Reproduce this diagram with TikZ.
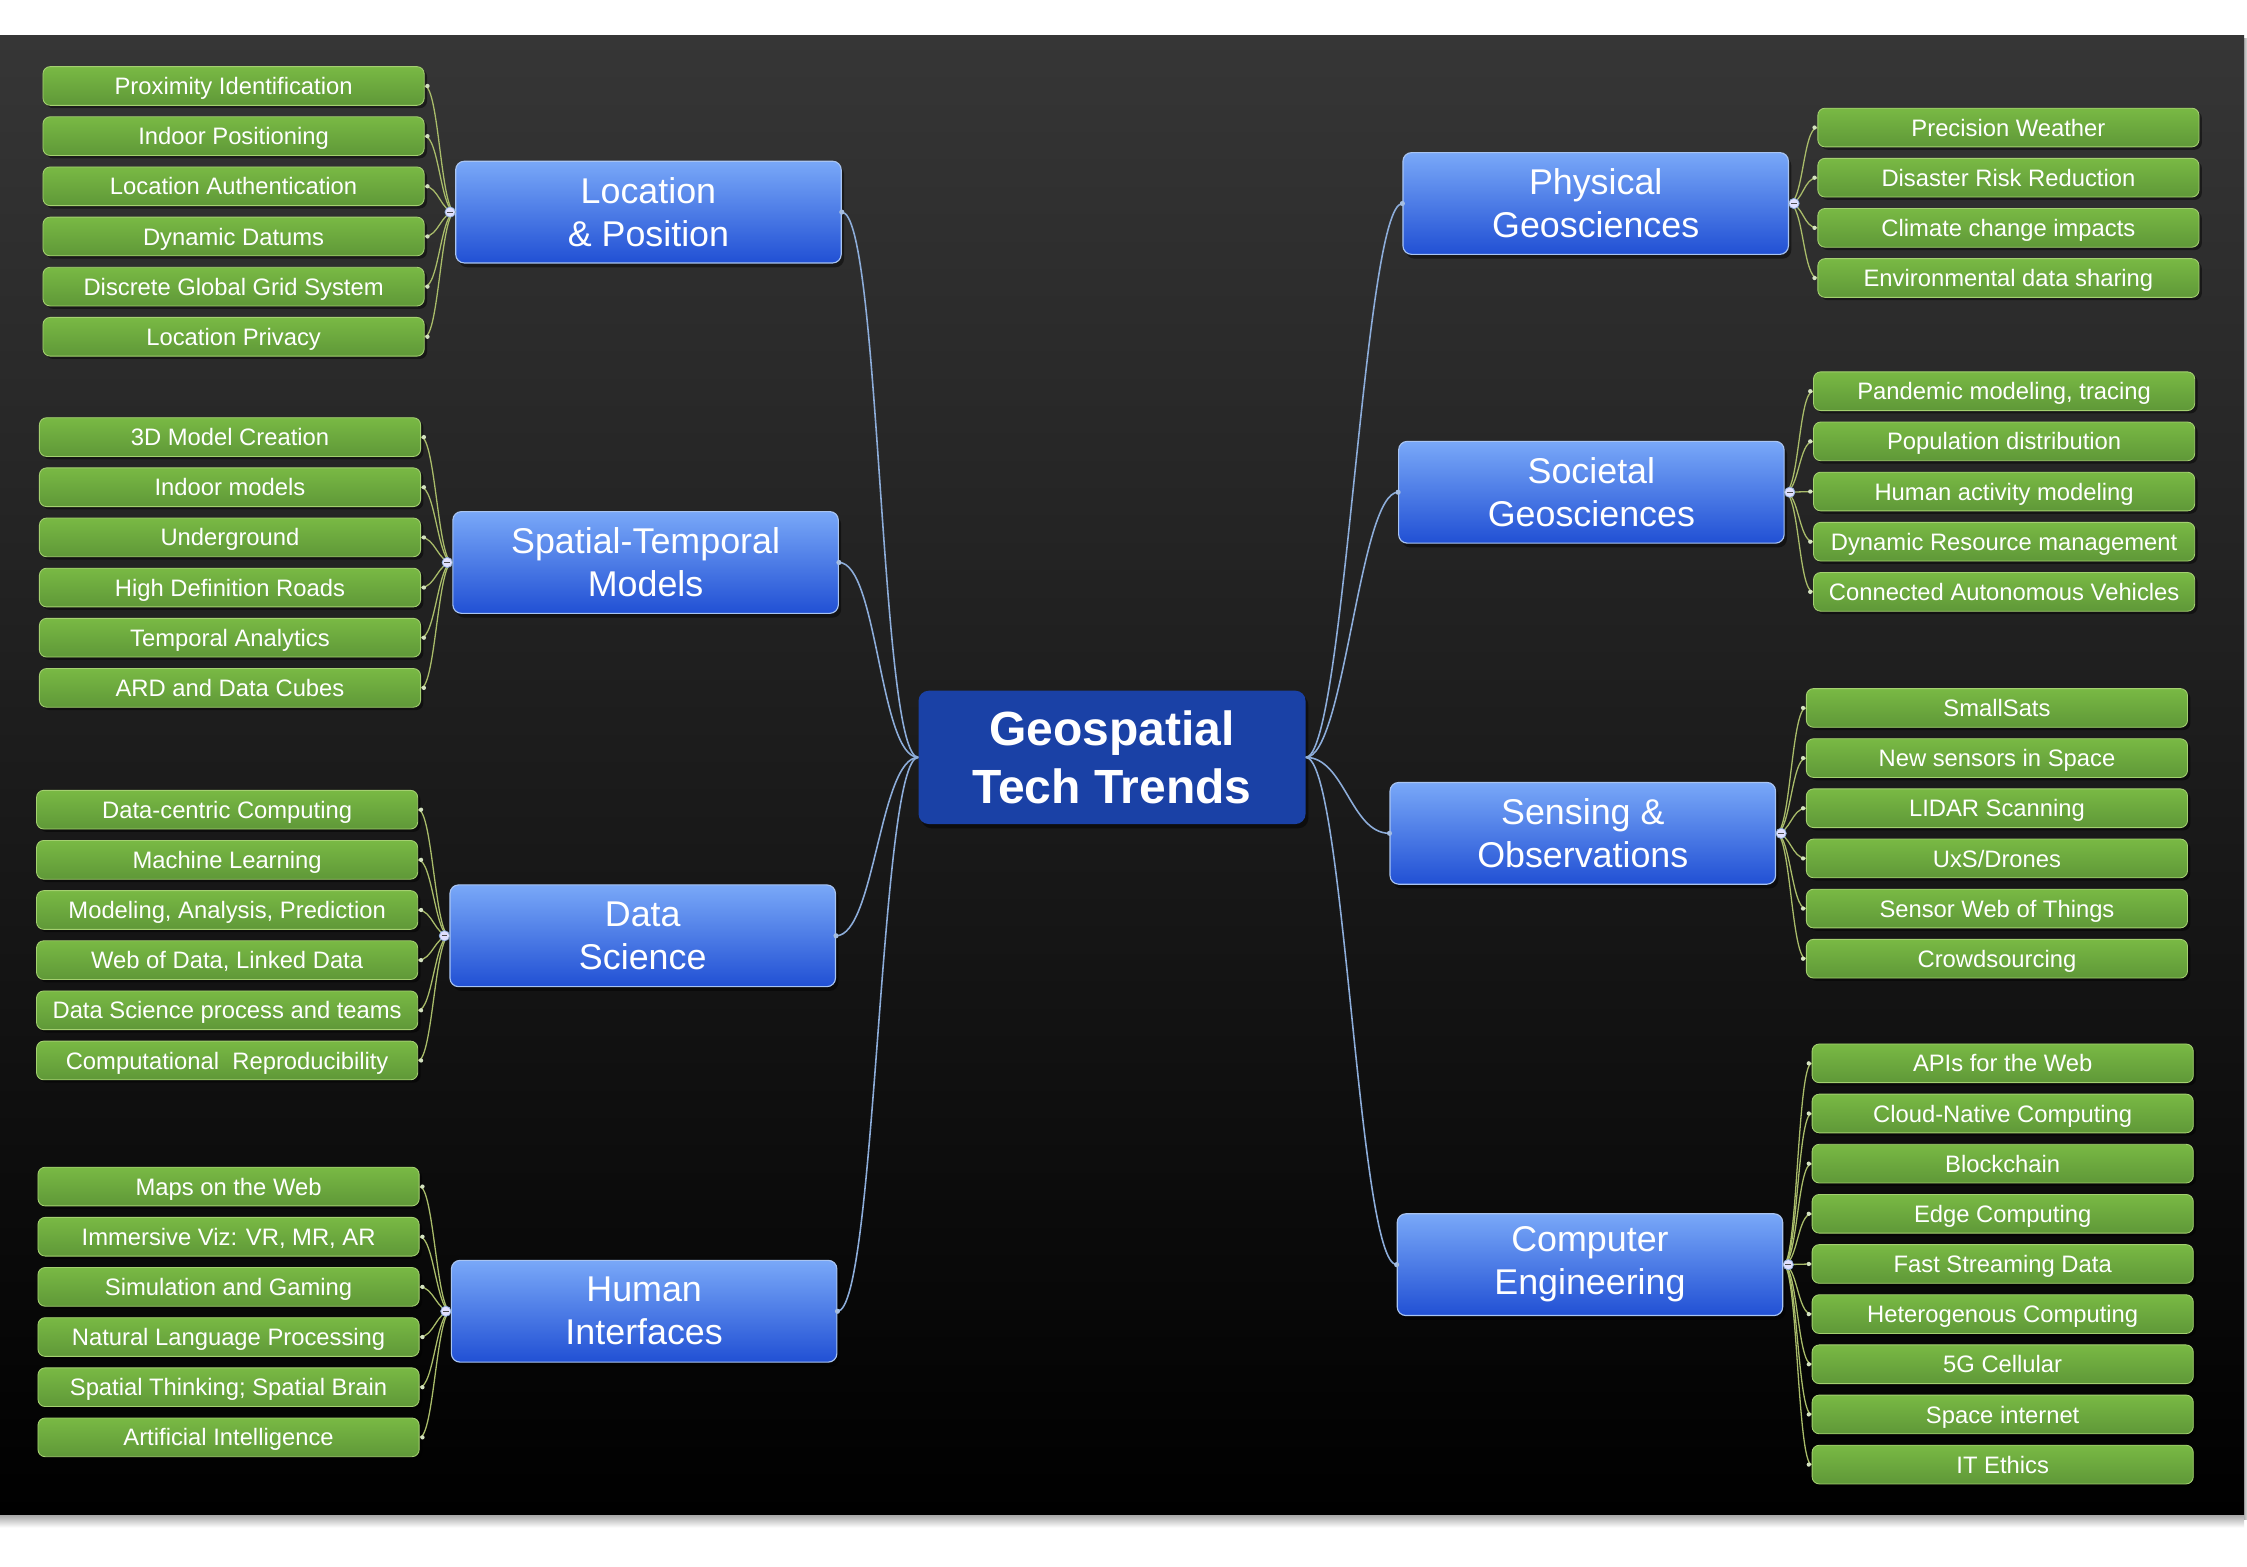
\documentclass[tikz,border=0pt]{standalone}
\usepackage{fontspec}
\setmainfont{Liberation Sans}
\usetikzlibrary{shadows}
\definecolor{bgtop}{HTML}{363636}
\definecolor{bgbot}{HTML}{000000}
\definecolor{gtop}{HTML}{79B944}
\definecolor{gbot}{HTML}{5F9838}
\definecolor{gborder}{HTML}{A4D070}
\definecolor{btop}{HTML}{79A8F8}
\definecolor{bbot}{HTML}{2150D4}
\definecolor{bborder}{HTML}{A8C4F2}
\definecolor{cblue}{HTML}{1A41A6}
\definecolor{bline}{HTML}{8DADDA}
\definecolor{gline}{HTML}{A9BC6A}
\definecolor{gdot}{HTML}{D4E2C0}
\begin{document}
\begin{tikzpicture}[x=1pt,y=-1pt,
  greenbox/.style={draw=gborder, line width=0.6pt, rounded corners=5pt,
    top color=gtop, bottom color=gbot, minimum width=266pt, minimum height=27pt,
    inner sep=0pt, text=white, font=\fontsize{16.6}{19}\selectfont,
    text height=12pt, text depth=0pt,
    drop shadow={shadow xshift=2pt, shadow yshift=-2pt, opacity=0.45, fill=black}},
  bluebox/.style={draw=bborder, line width=0.8pt, rounded corners=6pt,
    top color=btop, bottom color=bbot, minimum width=269pt, minimum height=71pt,
    inner sep=0pt, text=white, align=center, font=\fontsize{25}{30}\selectfont,
    drop shadow={shadow xshift=2pt, shadow yshift=-3pt, opacity=0.45, fill=black}},
  centerbox/.style={fill=cblue, rounded corners=7pt, minimum width=270pt,
    minimum height=93pt, inner sep=0pt, text=white, align=center,
    font=\bfseries\fontsize{33.5}{40}\selectfont,
    drop shadow={shadow xshift=2pt, shadow yshift=-3pt, opacity=0.45, fill=black}},
  mainline/.style={draw=bline, line width=1.1pt},
  subline/.style={draw=gline, line width=0.9pt},
  enddot/.style={fill=gdot, draw=none},
  bdot/.style={fill=bline!80!white, draw=none},
  collapse/.style={fill=white!88!blue, draw=bline, line width=0.5pt}
]
\useasboundingbox (0,0) rectangle (1568,1093);
\fill[white] (0,0) rectangle (1568,1093);
% page shadow
\shade[top color=black!35, bottom color=white] (0,1057) rectangle (1566,1066);
\shade[left color=black!30, right color=white] (1566,27) rectangle (1570,1060);
% dark background
\shade[top color=bgtop, bottom color=bgbot] (0,25) rectangle (1566,1057);

% ---------- centre ----------
\node[centerbox] (ctr) at (776,528.5) {Geospatial\\Tech Trends};

% ---------- left blue nodes ----------
\node[bluebox] (loc) at (452.5,148) {Location\\\& Position};
\node[bluebox] (stm) at (450.5,392.5) {Spatial-Temporal\\Models};
\node[bluebox] (dsc) at (448.5,653) {Data\\Science};
\node[bluebox] (hmi) at (449.5,915) {Human\\Interfaces};

% ---------- right blue nodes ----------
\node[bluebox] (phy) at (1113.5,142) {Physical\\Geosciences};
\node[bluebox] (soc) at (1110.5,343.5) {Societal\\Geosciences};
\node[bluebox] (sen) at (1104.5,581.5) {Sensing \&\\Observations};
\node[bluebox] (cmp) at (1109.5,882.5) {Computer\\Engineering};

% ---------- main connectors ----------
\foreach \b in {loc,stm,dsc,hmi}{
  \draw[mainline] (ctr.west) .. controls +(-27,0) and +(27,0) .. (\b.east);
  \fill[bdot] (\b.east) circle (1.8pt);
}
\foreach \b in {phy,soc,sen,cmp}{
  \draw[mainline] (ctr.east) .. controls +(27,0) and +(-27,0) .. (\b.west);
  \fill[bdot] (\b.west) circle (1.8pt);
}

% ---------- left green groups ----------
\foreach \t [count=\i] in {Proximity Identification, Indoor Positioning, Location Authentication, Dynamic Datums, Discrete Global Grid System, Location Privacy}{
  \node[greenbox] (loc\i) at (163,{25+35*\i}) {\t};
  \draw[subline] (loc.west) .. controls +(-10,0) and +(10,0) .. (loc\i.east);
  \fill[enddot] (loc\i.east) ++(2,0) circle (1.5pt);
}
\foreach \t [count=\i] in {3D Model Creation, Indoor models, Underground, High Definition Roads, Temporal Analytics, ARD and Data Cubes}{
  \node[greenbox] (stm\i) at (160.5,{270+35*\i}) {\t};
  \draw[subline] (stm.west) .. controls +(-10,0) and +(10,0) .. (stm\i.east);
  \fill[enddot] (stm\i.east) ++(2,0) circle (1.5pt);
}
\foreach \t [count=\i] in {Data-centric Computing, Machine Learning, {Modeling, Analysis, Prediction}, {Web of Data, Linked Data}, Data Science process and teams, Computational\ \ Reproducibility}{
  \node[greenbox] (dsc\i) at (158.5,{530+35*\i}) {\t};
  \draw[subline] (dsc.west) .. controls +(-10,0) and +(10,0) .. (dsc\i.east);
  \fill[enddot] (dsc\i.east) ++(2,0) circle (1.5pt);
}
\foreach \t [count=\i] in {Maps on the Web, {Immersive Viz: VR, MR, AR}, Simulation and Gaming, Natural Language Processing, {Spatial Thinking; Spatial Brain}, Artificial Intelligence}{
  \node[greenbox] (hmi\i) at (159.5,{793+35*\i}) {\t};
  \draw[subline] (hmi.west) .. controls +(-10,0) and +(10,0) .. (hmi\i.east);
  \fill[enddot] (hmi\i.east) ++(2,0) circle (1.5pt);
}

% ---------- right green groups ----------
\foreach \t [count=\i] in {Precision Weather, Disaster Risk Reduction, Climate change impacts, Environmental data sharing}{
  \node[greenbox] (phy\i) at (1401.5,{54+35*\i}) {\t};
  \draw[subline] (phy.east) .. controls +(10,0) and +(-10,0) .. (phy\i.west);
  \fill[enddot] (phy\i.west) ++(-2,0) circle (1.5pt);
}
\foreach \t [count=\i] in {{Pandemic modeling, tracing}, Population distribution, Human activity modeling, Dynamic Resource management, Connected Autonomous Vehicles}{
  \node[greenbox] (soc\i) at (1398.5,{238+35*\i}) {\t};
  \draw[subline] (soc.east) .. controls +(10,0) and +(-10,0) .. (soc\i.west);
  \fill[enddot] (soc\i.west) ++(-2,0) circle (1.5pt);
}
\foreach \t [count=\i] in {SmallSats, New sensors in Space, LIDAR Scanning, UxS/Drones, Sensor Web of Things, Crowdsourcing}{
  \node[greenbox] (sen\i) at (1393.5,{459+35*\i}) {\t};
  \draw[subline] (sen.east) .. controls +(10,0) and +(-10,0) .. (sen\i.west);
  \fill[enddot] (sen\i.west) ++(-2,0) circle (1.5pt);
}
\foreach \t [count=\i] in {APIs for the Web, Cloud-Native Computing, Blockchain, Edge Computing, Fast Streaming Data, Heterogenous Computing, 5G Cellular, Space internet, IT Ethics}{
  \node[greenbox] (cmp\i) at (1397.5,{707+35*\i}) {\t};
  \draw[subline] (cmp.east) .. controls +(10,0) and +(-10,0) .. (cmp\i.west);
  \fill[enddot] (cmp\i.west) ++(-2,0) circle (1.5pt);
}

% ---------- collapse markers ----------
\foreach \b in {loc,stm,dsc,hmi}{
  \draw[collapse] (\b.west) ++(-3.5,0) circle (3.6pt);
  \draw[gray!60!black, line width=0.8pt] (\b.west) ++(-5.5,0) -- ++(4,0);
}
\foreach \b in {phy,soc,sen,cmp}{
  \draw[collapse] (\b.east) ++(3.5,0) circle (3.6pt);
  \draw[gray!60!black, line width=0.8pt] (\b.east) ++(1.5,0) -- ++(4,0);
}
\end{tikzpicture}
\end{document}
